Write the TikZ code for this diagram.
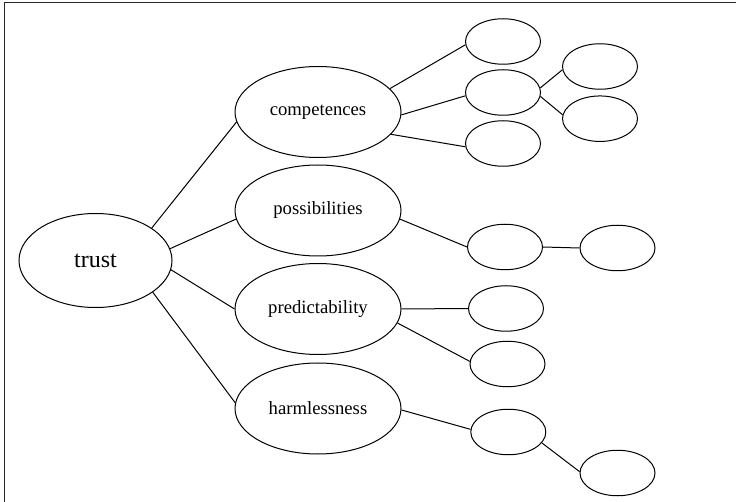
\documentclass[tikz,border=0pt]{standalone}
\usepackage{fontspec}
\setmainfont{Liberation Serif}
\usepackage{tikz}
\usetikzlibrary{shapes.geometric}

\begin{document}
\begin{tikzpicture}[x=1pt,y=-1pt,
  line width=1pt,
  oval/.style={draw,ellipse,inner sep=0pt},
  rootoval/.style={oval,minimum width=153pt,minimum height=94pt,font=\fontsize{24}{28}\selectfont},
  mainoval/.style={oval,minimum width=166pt,minimum height=91pt,font=\fontsize{18.67}{22}\selectfont},
  leafoval/.style={oval,minimum width=75pt,minimum height=45.5pt}]
  \clip (0,0) rectangle (736,502);
  \draw[line width=1.4pt,black!85] (4.5,2.5) rectangle (745,510);

  % root and the four aspects
  \node[rootoval] (trust) at (95.5,260.5) {trust};
  \node[mainoval] (competences) at (318,112) {competences};
  \node[mainoval] (possibilities) at (318,210.5) {possibilities};
  \node[mainoval] (predictability) at (318,309) {predictability};
  \node[mainoval] (harmlessness) at (318,408.5) {harmlessness};

  % empty sub-nodes
  \node[leafoval] (comp-a) at (503,41.5) {};
  \node[leafoval] (comp-b) at (503,92.5) {};
  \node[leafoval] (comp-c) at (503,143.5) {};
  \node[leafoval] (comp-b1) at (600,66.5) {};
  \node[leafoval] (comp-b2) at (600,118.7) {};
  \node[leafoval] (poss-a) at (505,247) {};
  \node[leafoval] (poss-a1) at (617.5,248) {};
  \node[leafoval] (pred-a) at (506,308.5) {};
  \node[leafoval] (pred-b) at (507.5,364) {};
  \node[leafoval] (harm-a) at (508.3,432) {};
  \node[leafoval] (harm-a1) at (617.5,473) {};

  \draw (trust.30) -- (competences.187);
  \draw (trust.9) -- (possibilities.186);
  \draw (trust.-7) -- (predictability.west);
  \draw (trust.-29) -- (harmlessness.176);

  \draw (competences.18) -- (comp-a.185);
  \draw (competences.-2) -- (comp-b.185);
  \draw (competences.-17) -- (comp-c.185);
  \draw (comp-b.7) -- (comp-b1.185);
  \draw (comp-b.-6) -- (comp-b2.174);

  \draw (possibilities.-6) -- (poss-a.west);
  \draw (poss-a.east) -- (poss-a1.west);

  \draw (predictability.east) -- (pred-a.west);
  \draw (predictability.-10) -- (pred-b.176);

  \draw (harmlessness.-1) -- (harm-a.176);
  \draw (harm-a.-18) -- (harm-a1.178);
\end{tikzpicture}
\end{document}
